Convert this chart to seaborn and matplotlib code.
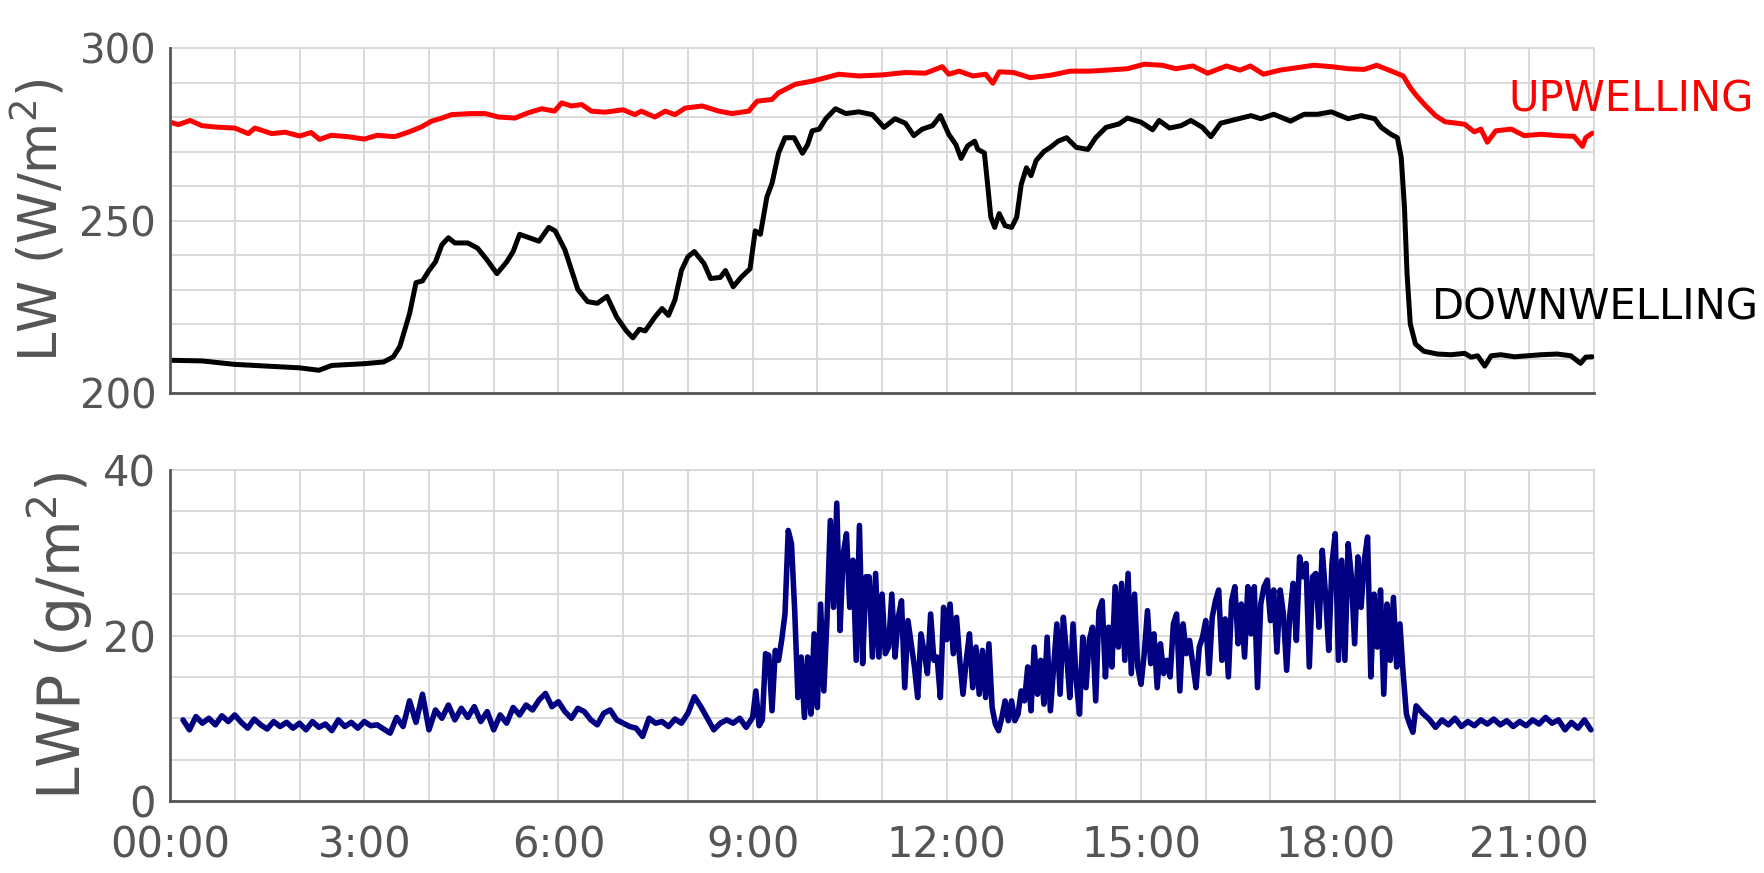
import numpy as np
import matplotlib
matplotlib.use("Agg")
import matplotlib.pyplot as plt
from matplotlib.ticker import FixedLocator, FuncFormatter
import seaborn as sns

# ---------------- data ----------------
# Downwelling LW (black), hours / W m-2
dw_time = [0, 0.5, 1.0, 1.5, 2.0, 2.3, 2.5, 3.0, 3.3, 3.45,
           3.55, 3.7, 3.8, 3.9, 4.0, 4.1, 4.2, 4.3, 4.4, 4.6,
           4.75, 4.9, 5.05, 5.2, 5.3, 5.4, 5.55, 5.7, 5.85, 5.95,
           6.1, 6.3, 6.45, 6.6, 6.75, 6.9, 7.05, 7.15, 7.25, 7.34,
           7.49, 7.6, 7.7, 7.8, 7.9, 8.0, 8.1, 8.25, 8.35, 8.5,
           8.58, 8.7, 8.83, 8.96, 9.04, 9.12, 9.22, 9.3, 9.4, 9.5,
           9.64, 9.77, 9.85, 9.92, 10.03, 10.13, 10.28, 10.44, 10.64, 10.85,
           11.03, 11.2, 11.36, 11.49, 11.62, 11.78, 11.9, 12.03, 12.14, 12.22,
           12.32, 12.43, 12.48, 12.58, 12.63, 12.68, 12.74, 12.81, 12.9, 13.0,
           13.08, 13.15, 13.23, 13.3, 13.38, 13.5, 13.6, 13.72, 13.85, 14.0,
           14.18, 14.3, 14.46, 14.66, 14.79, 15.0, 15.18, 15.28, 15.44, 15.62,
           15.77, 15.95, 16.08, 16.23, 16.44, 16.7, 16.85, 17.05, 17.31, 17.52,
           17.73, 17.94, 18.2, 18.4, 18.61, 18.71, 18.86, 18.96, 19.02, 19.07,
           19.11, 19.16, 19.24, 19.37, 19.58, 19.79, 20.0, 20.1, 20.2, 20.31,
           20.41, 20.56, 20.77, 20.97, 21.18, 21.43, 21.64, 21.79, 21.87, 21.97]
dw_vals = [209.5, 209.3, 208.3, 207.8, 207.3, 206.6, 208.0, 208.5, 209.0, 210.5,
           213.5, 223, 232, 232.5, 235.5, 238, 243, 245, 243.5, 243.5,
           242, 238.5, 234.6, 238, 241, 246, 245, 244, 248, 247,
           241.5, 230, 226.5, 226, 228, 222, 218, 216, 218.5, 218,
           222, 224.5, 222.5, 227, 235.5, 239.5, 241, 237.5, 233.2, 233.5,
           235.5, 230.8, 233.7, 236, 247, 246, 256.8, 260.8, 269.5, 274,
           274, 269.5, 272, 276, 276.5, 279.5, 282.4, 281, 281.5, 280.7,
           277, 279.5, 278.2, 274.6, 276.5, 277.5, 280.4, 275, 272, 268,
           271.6, 273, 270.6, 269.6, 260.5, 251, 248, 252, 248.5, 248,
           251, 260.5, 265.3, 263, 267.4, 270, 271.2, 273, 274, 271.2,
           270.6, 274, 277, 278, 279.7, 278.5, 276.3, 279, 276.8, 277.5,
           279, 277, 274.3, 278.2, 279.2, 280.4, 279.5, 280.8, 278.8, 280.8,
           280.8, 281.5, 279.5, 280.4, 279.5, 277, 275, 274, 268.3, 253.8,
           234.5, 220, 214.2, 212.1, 211.3, 211.1, 211.5, 210.4, 210.8, 207.8,
           210.8, 211.1, 210.5, 210.8, 211.1, 211.3, 210.8, 208.6, 210.4, 210.5]

# Upwelling LW (red)
uw_time = [0, 0.13, 0.31, 0.49, 0.7, 1.0, 1.21, 1.31, 1.57, 1.78,
           2.0, 2.18, 2.31, 2.49, 2.75, 3.0, 3.2, 3.47, 3.68, 3.88,
           4.04, 4.2, 4.35, 4.66, 4.87, 5.07, 5.33, 5.53, 5.74, 5.94,
           6.05, 6.2, 6.36, 6.51, 6.72, 7.0, 7.18, 7.28, 7.49, 7.65,
           7.8, 7.96, 8.22, 8.48, 8.68, 8.94, 9.07, 9.3, 9.4, 9.66,
           9.92, 10.13, 10.33, 10.64, 11.0, 11.36, 11.67, 11.93, 12.03, 12.19,
           12.4, 12.6, 12.71, 12.81, 13.03, 13.29, 13.6, 13.91, 14.22, 14.48,
           14.79, 15.05, 15.33, 15.54, 15.8, 16.03, 16.32, 16.53, 16.69, 16.89,
           17.15, 17.41, 17.67, 17.94, 18.2, 18.45, 18.64, 18.87, 19.05, 19.16,
           19.26, 19.4, 19.55, 19.7, 19.84, 20.0, 20.15, 20.25, 20.35, 20.48,
           20.72, 20.92, 21.18, 21.43, 21.69, 21.82, 21.87, 21.97]
uw_vals = [278.5, 277.8, 279, 277.5, 277.1, 276.8, 275.2, 276.8, 275.2, 275.6,
           274.5, 275.5, 273.5, 274.7, 274.3, 273.6, 274.7, 274.3, 275.6, 277.1,
           278.8, 279.7, 280.7, 281, 281, 280, 279.7, 281.2, 282.4, 281.7,
           284.1, 283.2, 283.6, 281.7, 281.4, 282.1, 280.7, 281.7, 280, 281.7,
           280.7, 282.6, 283.2, 281.7, 281, 281.7, 284.6, 285.1, 287, 289.5,
           290.4, 291.4, 292.4, 291.9, 292.2, 292.9, 292.7, 294.6, 292.4, 293.3,
           291.9, 292.4, 289.8, 293.1, 292.9, 291.4, 292.1, 293.3, 293.3, 293.6,
           294, 295.3, 295, 294, 294.8, 292.7, 294.8, 293.6, 294.8, 292.4,
           293.6, 294.3, 295, 294.6, 294, 293.8, 295, 293.3, 291.9, 288.5,
           286.1, 283.2, 280.4, 278.6, 278.3, 277.9, 275.7, 276.5, 272.7, 276,
           276.5, 274.6, 275, 274.6, 274.4, 271.5, 274, 275.3]

# Liquid water path (navy), g m-2
# segment A: from 0.2 h every 0.1 h
lwp_a_start, lwp_a_step = 0.2, 0.1
lwp_a = [9.8, 8.6, 10.2, 9.4, 10.0, 9.2, 10.3, 9.6, 10.4, 9.5,
         8.8, 9.9, 9.2, 8.7, 9.6, 9.0, 9.5, 8.8, 9.4, 8.6,
         9.6, 8.9, 9.3, 8.5, 9.8, 9.0, 9.5, 8.8, 9.6, 9.1,
         9.2, 8.7, 8.2,
         10.1, 9.0, 12.1, 9.5, 12.9, 8.6, 11.0, 10.0, 11.6, 9.8,
         11.2, 10.1, 11.4, 9.6, 10.8, 8.6, 10.4, 9.4, 11.3, 10.4,
         11.6, 11.0, 12.2, 13.0, 11.4, 12.0, 10.8, 10.0, 11.2, 10.8,
         9.8, 9.2, 10.6, 11.0, 9.8, 9.4, 9.0, 8.8, 7.8, 10.0,
         9.4, 9.6, 9.0, 9.9, 9.4, 10.6, 12.6, 11.4, 10.0, 8.6,
         9.4, 9.8, 9.4, 10.0, 8.9]
# segment B: from 9.0 h every 0.05 h (20 values per hour)
lwp_b_start, lwp_b_step = 9.0, 0.05
lwp_b = [
    # 9h
    10.1, 13.3, 9.1, 9.8, 17.8, 17.6, 10.9, 18.2, 17.0, 19.5,
    22.6, 32.7, 31.1, 23.0, 12.5, 17.4, 10.1, 17.4, 10.5, 20.2,
    # 10h
    11.3, 23.8, 13.3, 22.2, 33.9, 23.4, 36.0, 20.6, 29.9, 32.3,
    23.4, 29.1, 17.0, 33.3, 16.6, 27.1, 27.1, 17.4, 27.5, 17.4,
    # 11h
    25.0, 17.8, 18.6, 25.0, 17.4, 22.2, 24.2, 13.7, 21.8, 19.0,
    16.2, 12.5, 20.2, 18.0, 15.4, 22.6, 17.0, 17.4, 12.5, 23.4,
    # 12h
    19.5, 23.8, 17.8, 22.2, 17.0, 12.9, 17.0, 20.2, 13.7, 18.6,
    12.9, 18.2, 12.5, 19.0, 11.3, 9.3, 8.5, 10.1, 12.1, 9.7,
    # 13h
    12.1, 9.7, 10.5, 13.3, 12.1, 16.2, 10.9, 18.6, 12.9, 17.0,
    11.7, 19.8, 10.9, 16.2, 21.4, 12.9, 22.2, 17.8, 12.5, 21.4,
    # 14h
    14.5, 10.5, 19.8, 13.7, 19.4, 21.0, 12.1, 23.0, 24.2, 15.0,
    21.0, 16.2, 25.9, 18.6, 26.3, 17.0, 27.5, 15.4, 25.0, 16.2,
    # 15h
    14.1, 17.8, 23.0, 16.6, 20.2, 13.7, 19.0, 15.4, 17.0, 15.0,
    21.4, 22.6, 13.3, 21.4, 17.8, 19.4, 16.6, 13.7, 18.6, 19.8,
    # 16h
    21.8, 15.4, 22.2, 24.2, 25.5, 17.0, 22.0, 15.0, 24.2, 25.9,
    19.0, 23.8, 17.4, 25.9, 20.2, 25.9, 13.7, 23.8, 25.9, 26.7,
    # 17h
    21.8, 25.5, 18.0, 25.5, 22.6, 15.8, 22.6, 26.3, 19.4, 29.5,
    27.1, 28.7, 16.2, 27.1, 27.5, 21.0, 30.3, 25.0, 18.2, 28.7,
    # 18h
    32.3, 17.0, 29.1, 17.0, 31.1, 27.1, 19.0, 29.5, 23.4, 29.1,
    31.9, 15.0, 25.0, 18.6, 25.5, 12.9, 23.8, 17.0, 24.6, 16.2,
    # 19h
    21.4, 15.4, 10.5, 9.3, 8.3]
# segment C: from 19.25 h every 0.1 h
lwp_c_start, lwp_c_step = 19.25, 0.1
lwp_c = [11.5, 10.6, 9.9, 8.9, 9.8, 9.2, 10.0, 9.0, 9.6, 9.1,
         9.8, 9.3, 9.9, 9.2, 9.7, 9.0, 9.6, 9.1, 9.8, 9.3,
         10.1, 9.4, 9.8, 8.6, 9.5, 8.8, 9.8, 8.6]

hour_ticks = list(range(0, 23))
hour_labels = {0: "00:00", 3: "3:00", 6: "6:00", 9: "9:00", 12: "12:00",
               15: "15:00", 18: "18:00", 21: "21:00"}
lw_ticks = list(range(200, 301, 10))
lw_labels = [200, 250, 300]
lwp_ticks = list(range(0, 41, 5))
lwp_labels = [0, 20, 40]

# ---------------- build series ----------------
lwp_time = np.concatenate([
    lwp_a_start + lwp_a_step * np.arange(len(lwp_a)),
    lwp_b_start + lwp_b_step * np.arange(len(lwp_b)),
    lwp_c_start + lwp_c_step * np.arange(len(lwp_c)),
])
lwp_vals = np.concatenate([lwp_a, lwp_b, lwp_c])

# ---------------- figure ----------------
sns.set_theme(style="white")
plt.rcParams["font.family"] = ["DejaVu Sans"]

DARK = "#555555"
GRID = "#d9d9d9"

fig = plt.figure(figsize=(17.64, 8.73), dpi=100)
ax1 = fig.add_axes([0.0964, 0.5498, 0.8073, 0.3952])
ax2 = fig.add_axes([0.0964, 0.0825, 0.8073, 0.3791])

sns.lineplot(x=uw_time, y=uw_vals, ax=ax1, color="#ff0000", linewidth=3.6, zorder=3)
sns.lineplot(x=dw_time, y=dw_vals, ax=ax1, color="black", linewidth=3.6, zorder=3)
sns.lineplot(x=lwp_time, y=lwp_vals, ax=ax2, color="#000080", linewidth=4.0, zorder=3)


def style_axes(ax, yticks, ylabels_shown, ylim, ysize):
    ax.set_xlim(0, 22)
    ax.set_ylim(*ylim)
    ax.xaxis.set_major_locator(FixedLocator(hour_ticks))
    ax.yaxis.set_major_locator(FixedLocator(yticks))
    ax.yaxis.set_major_formatter(
        FuncFormatter(lambda v, p: f"{int(round(v))}" if int(round(v)) in ylabels_shown else ""))
    ax.grid(True, color=GRID, linewidth=1.4)
    ax.set_axisbelow(True)
    for side in ("left", "bottom"):
        ax.spines[side].set_color(DARK)
        ax.spines[side].set_linewidth(2.0)
        ax.spines[side].set_zorder(5)
    for side in ("top", "right"):
        ax.spines[side].set_color(GRID)
        ax.spines[side].set_linewidth(1.4)
    ax.tick_params(axis="both", which="major", direction="in", length=11, width=1.6,
                   color=DARK, labelcolor=DARK, labelsize=ysize, pad=10,
                   top=False, right=False)


style_axes(ax1, lw_ticks, lw_labels, (200, 300), 29)
style_axes(ax2, lwp_ticks, lwp_labels, (0, 40), 30)

ax1.xaxis.set_major_formatter(FuncFormatter(lambda v, p: ""))
ax2.xaxis.set_major_formatter(FuncFormatter(lambda v, p: hour_labels.get(int(round(v)), "")))
ax2.tick_params(axis="x", pad=17, labelsize=30)

ax1.set_xlabel("")
ax2.set_xlabel("")
ax1.set_ylabel("LW (W/m$^2$)", fontsize=38, color=DARK, labelpad=8)
ax2.set_ylabel("LWP (g/m$^2$)", fontsize=42, color=DARK, labelpad=6)

ax1.text(20.68, 285.2, "UPWELLING", color="#ff0000", fontsize=30,
         ha="left", va="center", clip_on=False)
ax1.text(19.49, 224.9, "DOWNWELLING", color="black", fontsize=30,
         ha="left", va="center", clip_on=False)

fig.savefig("out.png", dpi=100)
